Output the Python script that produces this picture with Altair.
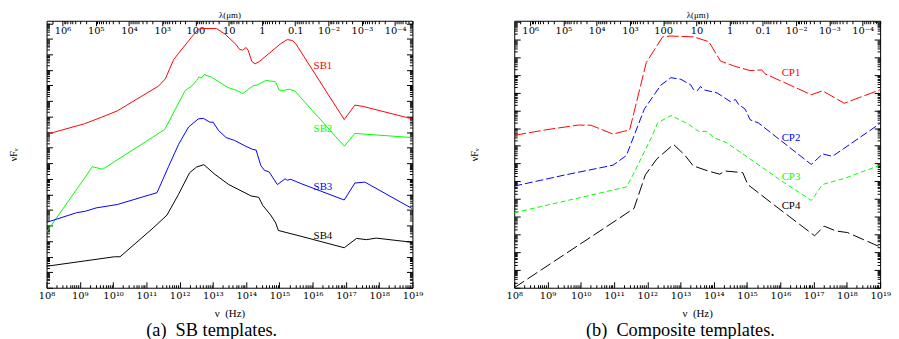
import json
import numpy as np
import pandas as pd
import altair as alt

SERIF = "Liberation Serif"
TICKFONT = "DejaVu Serif"

# ---------------- Panel (a): SB templates (log10 nu [Hz], log10 nuFnu [arbitrary decades]) -------------
SB1_LOGNU = [8.00, 9.14, 9.69, 10.13, 11.37, 11.57, 11.82, 11.97, 12.35, 12.56, 12.71, 13.11, 13.36, 13.70,
             13.80, 13.90, 14.00, 14.06, 14.17, 14.27, 14.41, 15.04, 15.24, 15.39, 15.49, 16.95, 17.27, 17.52, 19.00]
SB1_LOGF = [9.86, 10.54, 10.99, 11.37, 12.97, 13.42, 14.66, 15.07, 16.08, 16.62, 16.66, 16.66, 16.31, 15.63,
            15.32, 15.27, 15.44, 15.27, 14.55, 14.39, 14.56, 15.69, 15.95, 15.89, 15.69, 10.81, 11.74, 11.65, 10.85]

SB2_LOGNU = [8.00, 9.21, 9.37, 9.69, 11.55, 12.17, 12.38, 12.51, 12.58, 12.65, 12.74, 12.96, 13.45, 13.55,
             13.70, 13.90, 14.20, 14.35, 14.59, 14.84, 14.89, 14.99, 15.12, 15.29, 15.47, 16.95, 17.27, 19.00]
SB2_LOGF = [3.58, 7.25, 7.78, 7.62, 10.17, 12.68, 12.99, 13.32, 13.55, 13.48, 13.70, 13.53, 12.87, 12.80,
            12.70, 12.48, 12.97, 13.05, 13.32, 13.26, 13.22, 12.70, 12.68, 12.76, 12.64, 9.10, 9.92, 9.65]

SB3_LOGNU = [8.00, 8.90, 9.17, 9.49, 10.13, 11.32, 11.47, 11.67, 11.97, 12.27, 12.56, 12.71, 12.91, 13.01,
             13.16, 13.40, 13.65, 13.98, 14.20, 14.30, 14.44, 14.55, 14.69, 14.94, 15.17, 15.24, 15.34, 15.68,
             16.95, 17.27, 17.57, 19.00]
SB3_LOGF = [4.20, 4.82, 4.92, 5.13, 5.35, 6.11, 6.83, 7.80, 9.22, 10.33, 10.85, 10.89, 10.64, 10.64,
            10.13, 9.65, 9.47, 9.10, 8.89, 8.85, 7.86, 7.55, 7.45, 6.63, 7.00, 6.91, 6.97, 6.67,
            5.64, 6.73, 6.79, 5.08]

SB4_LOGNU = [8.00, 10.04, 10.21, 11.23, 11.62, 11.97, 12.30, 12.51, 12.73, 13.06, 13.48, 14.15, 14.38, 14.50,
             14.74, 14.89, 14.97, 15.68, 16.95, 17.32, 17.62, 17.91, 19.00]
SB4_LOGF = [1.38, 1.99, 1.99, 3.89, 4.67, 6.01, 7.39, 7.76, 7.91, 7.29, 6.63, 5.90, 5.81, 5.29,
            4.67, 4.16, 3.68, 3.29, 2.57, 3.17, 3.09, 3.19, 2.92]

SB_NAMES = ["SB1", "SB2", "SB3", "SB4"]
SB_COLORS = ["#ff0000", "#00ff00", "#0000ff", "#000000"]
SB_LABEL_LOGNU = [16.31, 16.31, 16.31, 16.31]
SB_LABEL_LOGF = [14.22, 10.21, 6.50, 3.35]
SB_YMAX = 17.16

# ---------------- Panel (b): composite templates -------------
CP1_LOGNU = [8.00, 8.94, 9.93, 10.31, 10.97, 11.47, 11.97, 12.46, 12.71, 13.40, 13.85, 14.20, 14.59, 15.09,
             15.44, 15.54, 16.93, 17.27, 17.92, 19.00]
CP1_LOGF = [8.59, 8.90, 9.17, 9.16, 8.66, 8.90, 12.70, 14.14, 14.19, 14.14, 13.87, 12.78, 12.51, 12.24,
            12.28, 12.06, 10.88, 11.10, 10.40, 11.16]

CP2_LOGNU = [8.00, 9.53, 10.97, 11.37, 11.91, 12.41, 12.71, 13.01, 13.31, 13.38, 13.50, 13.60, 13.70, 14.10,
             14.50, 14.65, 14.74, 14.94, 15.09, 15.34, 16.93, 17.27, 17.57, 19.00]
CP2_LOGF = [5.73, 6.36, 6.91, 7.45, 10.07, 11.43, 11.84, 11.75, 11.43, 11.19, 11.10, 11.34, 11.16, 10.98,
            10.49, 10.61, 10.34, 10.07, 9.47, 9.29, 6.95, 7.54, 7.41, 9.26]

CP3_LOGNU = [8.00, 11.37, 11.57, 12.14, 12.31, 12.71, 13.20, 13.55, 13.79, 14.03, 14.39, 15.78, 15.98, 16.93,
             17.27, 17.97, 19.00]
CP3_LOGF = [4.23, 5.68, 6.36, 8.54, 9.29, 9.71, 9.26, 8.81, 8.81, 8.44, 8.17, 6.36, 6.09, 4.92,
            5.82, 6.19, 6.91]

CP4_LOGNU = [8.00, 11.35, 11.60, 11.94, 12.29, 12.79, 13.14, 13.38, 13.83, 14.18, 14.33, 14.87, 15.02, 15.76,
             17.03, 17.32, 17.67, 18.02, 19.00]
CP4_LOGF = [0.00, 4.16, 4.47, 6.36, 7.27, 8.08, 7.45, 6.87, 6.58, 6.40, 6.58, 6.49, 5.82, 4.74,
            2.93, 3.47, 3.20, 3.11, 2.30]

CP_NAMES = ["CP1", "CP2", "CP3", "CP4"]
CP_COLORS = ["#ff0000", "#0000ff", "#00ff00", "#000000"]
CP_DASHES = [[12, 3], [8, 3], [5, 3], [12, 4]]
CP_LABEL_LOGNU = [16.32, 16.32, 16.32, 16.32]
CP_LABEL_LOGF = [12.12, 8.43, 6.26, 4.63]
CP_YMAX = 15.05

# ---------------- tick labels -------------
SUP = str.maketrans("0123456789-", "⁰¹²³⁴⁵⁶⁷⁸⁹⁻")
NU_EXP = list(range(8, 20))
NU_LABELS = ["10" + str(n).translate(SUP) for n in NU_EXP]
LAMBDA_EXP = list(range(6, -5, -1))
LAMBDA_LABELS = ["10⁶", "10⁵", "10⁴", "10³", "100", "10", "1", "0.1", "10⁻²", "10⁻³", "10⁻⁴"]
LOG_C = float(np.log10(2.998e14))  # log10(c in micron/s)

nu_minor = [float(n + np.log10(k)) for n in range(8, 19) for k in range(2, 10)]
lam_major = [LOG_C - m for m in LAMBDA_EXP]
lam_minor = []
for m in range(7, -6, -1):
    for k in range(2, 10):
        v = float(LOG_C - m - np.log10(k))
        if 8 <= v <= 19:
            lam_minor.append(v)

nu_expr = f"{json.dumps(NU_LABELS, ensure_ascii=False)}[round(datum.value) - 8]"
lam_expr = f"{json.dumps(LAMBDA_LABELS, ensure_ascii=False)}[round(datum.value - {LOG_C:.6f}) + 6]"


def ax(orient, values, size, **kw):
    opts = dict(orient=orient, values=values, tickSize=size, offset=-size, grid=False, domain=False,
                tickColor="black", tickWidth=1, labelFont=TICKFONT, titleFont=SERIF,
                labelColor="black", titleColor="black", titleFontWeight="normal")
    opts.update(kw)
    return alt.Axis(**opts)


def panel(series, names, colors, dashes, lab_nu, lab_f, ymax, caption, tpad, cap_dx):
    rows = []
    for name, (nu, f) in zip(names, series):
        for i, (a, b) in enumerate(zip(nu, f)):
            rows.append({"series": name, "idx": i, "lognu": a, "logf": b})
    df = pd.DataFrame(rows)
    labels = pd.DataFrame({"series": names, "lognu": lab_nu, "logf": lab_f})

    xs = alt.Scale(domain=[8, 19], nice=False, zero=False)
    ys = alt.Scale(domain=[0, ymax], nice=False, zero=False)
    y_major = list(range(0, int(ymax) + 1))
    y_minor = [float(n + np.log10(k)) for n in range(0, int(ymax) + 1) for k in range(2, 10)
               if n + np.log10(k) <= ymax]

    color = alt.Color("series:N", scale=alt.Scale(domain=names, range=colors), legend=None)

    x_bot = ax("bottom", NU_EXP, 6, labelExpr=nu_expr, labelFontSize=10, labelPadding=3,
               labelOverlap=False, labelFlush=False, title="ν\u2002(Hz)", titleFontSize=11, titlePadding=7)
    x_bot_min = ax("bottom", nu_minor, 3, labels=False, title=None)
    x_top = ax("top", lam_major, 5, labelExpr=lam_expr, labelFontSize=10, labelPadding=-12.5,
               labelBaseline="alphabetic", labelOverlap=False, labelFlush=False,
               title="λ(μm)", titleFontSize=9, titlePadding=1)
    x_top_min = ax("top", lam_minor, 3, labels=False, title=None)
    y_left = ax("left", y_major, 6, labels=False, title="νFᵥ", titleFontSize=10, titlePadding=tpad)
    y_left_min = ax("left", y_minor, 3, labels=False, title=None)
    y_right = ax("right", y_major, 6, labels=False, title=None)
    y_right_min = ax("right", y_minor, 3, labels=False, title=None)

    enc = dict(x=alt.X("lognu:Q", scale=xs, axis=x_bot),
               y=alt.Y("logf:Q", scale=ys, axis=y_left),
               color=color, order="idx:Q")
    if dashes:
        enc["strokeDash"] = alt.StrokeDash("series:N", scale=alt.Scale(domain=names, range=dashes),
                                           legend=None)
    lines = alt.Chart(df).mark_line(strokeWidth=1, clip=True).encode(**enc)

    def ghost(xa, ya):
        return alt.Chart(df).mark_point(opacity=0).encode(
            x=alt.X("lognu:Q", scale=xs, axis=xa), y=alt.Y("logf:Q", scale=ys, axis=ya))

    text = alt.Chart(labels).mark_text(font=SERIF, fontSize=11).encode(
        x=alt.X("lognu:Q", scale=xs, axis=None),
        y=alt.Y("logf:Q", scale=ys, axis=None),
        text="series:N", color=color)

    return alt.layer(
        lines, ghost(x_bot_min, y_left_min), ghost(x_top, y_right), ghost(x_top_min, y_right_min), text
    ).resolve_axis(x="independent", y="independent").properties(
        width=370, height=270,
        title=alt.TitleParams(caption, orient="bottom", anchor="middle", font=SERIF, fontSize=18.5,
                              fontWeight="normal", dx=cap_dx, offset=3, color="black"))


left = panel([(SB1_LOGNU, SB1_LOGF), (SB2_LOGNU, SB2_LOGF), (SB3_LOGNU, SB3_LOGF), (SB4_LOGNU, SB4_LOGF)],
             SB_NAMES, SB_COLORS, None, SB_LABEL_LOGNU, SB_LABEL_LOGF, SB_YMAX,
             "(a)\u2002SB templates.", 28, -18)
right = panel([(CP1_LOGNU, CP1_LOGF), (CP2_LOGNU, CP2_LOGF), (CP3_LOGNU, CP3_LOGF), (CP4_LOGNU, CP4_LOGF)],
              CP_NAMES, CP_COLORS, CP_DASHES, CP_LABEL_LOGNU, CP_LABEL_LOGF, CP_YMAX,
              "(b)\u2002Composite templates.", 35, -17)

chart = alt.hconcat(left, right, spacing=46).resolve_scale(
    color="independent", strokeDash="independent"
).properties(
    padding={"left": 0, "top": 0, "right": 0, "bottom": 2}, background="white"
).configure_view(stroke="black", strokeWidth=1)

chart.save("out.html", embed_options={"renderer": "svg", "actions": False})
